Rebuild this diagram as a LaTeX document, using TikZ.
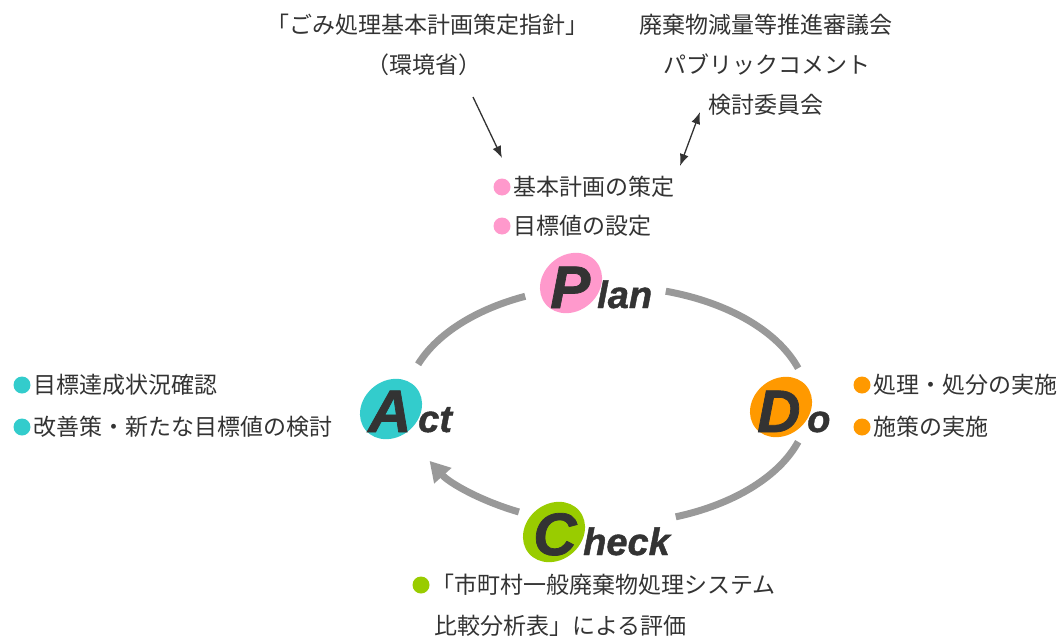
\documentclass[tikz,border=0pt]{standalone}
\usepackage{fontspec}
\newfontfamily\jp{Noto Sans CJK JP}
\newfontfamily\pdca{Liberation Sans}[BoldItalicFeatures={FakeBold=1.2}]
\usetikzlibrary{arrows.meta,shapes.geometric}
\definecolor{pinkc}{HTML}{FF99CC}
\definecolor{tealc}{HTML}{33CCCC}
\definecolor{orangec}{HTML}{FF9900}
\definecolor{greenc}{HTML}{99CC00}
\definecolor{txtc}{HTML}{333333}
\definecolor{cycc}{HTML}{999999}
\begin{document}
\begin{tikzpicture}[x=1pt,y=-1pt,
  txt/.style={font=\jp\fontsize{23}{27}\selectfont, text=txtc, inner sep=0pt},
  dot/.style={circle, inner sep=0pt, minimum size=17pt},
  blob/.style={ellipse, inner sep=0pt, minimum width=66pt, minimum height=56pt, rotate=40},
  capl/.style={font=\pdca\bfseries\itshape\fontsize{60}{60}\selectfont, text=txtc, inner sep=0pt, anchor=base west},
  lowl/.style={font=\pdca\bfseries\itshape\fontsize{38}{38}\selectfont, text=txtc, inner sep=0pt, anchor=base west},
  cyc/.style={line width=7pt, draw=cycc},
  thin/.style={line width=1.3pt, draw=txtc, {Latex[length=12pt,width=9pt]}-{Latex[length=12pt,width=9pt]}},
  thinone/.style={line width=1.3pt, draw=txtc, -{Latex[length=12pt,width=9pt]}}]
\useasboundingbox (0,0) rectangle (1057,637);

% top texts
\node[txt] (guide) at (427,25) {「ごみ処理基本計画策定指針」};
\node[txt] (moe) at (424,65) {（環境省）};
\node[txt] (council) at (766,25) {廃棄物減量等推進審議会};
\node[txt] (pubcom) at (767,65) {パブリックコメント};
\node[txt] (comm) at (766,105) {検討委員会};

% plan items
\node[dot, fill=pinkc] (pb1) at (502,187) {};
\node[txt, anchor=west] (p1) at (513,187) {基本計画の策定};
\node[dot, fill=pinkc] (pb2) at (502,226) {};
\node[txt, anchor=west] (p2) at (513,226) {目標値の設定};

% arrows on top
\coordinate (a1s) at (473,97);
\coordinate (a1e) at (502,158);
\draw[thinone] (a1s) -- (a1e);
\coordinate (a2s) at (700,112);
\coordinate (a2e) at (680,166);
\draw[thin] (a2s) -- (a2e);

% cycle arcs (ellipse center 607,405; a=201, b=119)
\coordinate (cc) at (607,405);
\draw[cyc] (cc) ++(200:201 and 119) arc[start angle=200, end angle=246, x radius=201, y radius=119];
\draw[cyc] (cc) ++(287:201 and 119) arc[start angle=287, end angle=342, x radius=201, y radius=119];
\draw[cyc] (cc) ++(18:201 and 119) arc[start angle=18, end angle=70, x radius=201, y radius=119];
\draw[cyc, -{Triangle[length=20pt,width=22pt]}] (cc) ++(116:201 and 119) arc[start angle=116, end angle=152, x radius=201, y radius=119];

% PDCA blobs
\node[blob, fill=pinkc] (pblob) at (571,283) {};
\node[blob, fill=tealc] (ablob) at (391,409) {};
\node[blob, fill=orangec] (dblob) at (781,407) {};
\node[blob, fill=greenc] (cblob) at (554,532) {};

\node[capl] (P) at (550,308) {P};
\node[lowl] (lan) at (597,308) {lan};
\node[capl] (A) at (368,432) {A};
\node[lowl] (ct) at (418,432) {ct};
\node[capl] (D) at (757,432) {D};
\node[lowl] (o) at (807,432) {o};
\node[capl] (C) at (533,555) {C};
\node[lowl] (heck) at (583,555) {heck};

% act items
\node[dot, fill=tealc] (ab1) at (22,385) {};
\node[txt, anchor=west] (a1) at (33,385) {目標達成状況確認};
\node[dot, fill=tealc] (ab2) at (22,427) {};
\node[txt, anchor=west] (a2) at (33,427) {改善策・新たな目標値の検討};

% do items
\node[dot, fill=orangec] (db1) at (862,385) {};
\node[txt, anchor=west] (d1) at (873,385) {処理・処分の実施};
\node[dot, fill=orangec] (db2) at (862,427) {};
\node[txt, anchor=west] (d2) at (873,427) {施策の実施};

% check items
\node[dot, fill=greenc] (cb1) at (421,585) {};
\node[txt, anchor=west] (c1) at (431,585) {「市町村一般廃棄物処理システム};
\node[txt, anchor=west] (c2) at (434,626) {比較分析表」による評価};
\end{tikzpicture}
\end{document}
